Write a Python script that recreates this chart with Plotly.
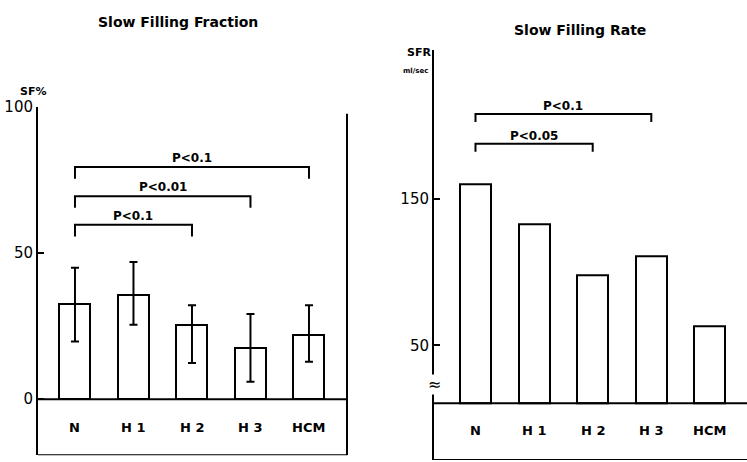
import plotly.graph_objects as go

# ---------------- data ----------------
categories = ["N", "H1", "H2", "H3", "HCM"]
cat_labels = ["N", "H 1", "H 2", "H 3", "HCM"]
sf_mean = [32.6, 35.6, 25.5, 17.4, 22.0]
sf_err_plus = [12.4, 11.4, 6.7, 11.8, 10.2]
sf_err_minus = [12.8, 10.1, 13.1, 11.4, 9.2]
sfr_mean = [160, 133, 98, 111, 63]
sfr_base = 10.4          # baseline of the broken axis
sf_sig = [("N", "H2", "P<0.1"), ("N", "H3", "P<0.01"), ("N", "HCM", "P<0.1")]
sfr_sig = [("N", "H2", "P<0.05"), ("N", "H3", "P<0.1")]

# ---------------- layout helpers ----------------
W, H = 747, 462
def fx(p): return p / W
def fy(p): return 1 - p / H

FONT = "DejaVu Sans"
BLACK = "black"
idx = list(range(len(categories)))

fig = go.Figure()

fig.add_trace(go.Bar(
    x=idx, y=sf_mean, base=0, width=0.53,
    marker=dict(color="white", line=dict(color=BLACK, width=2)),
    error_y=dict(type="data", symmetric=False, array=sf_err_plus,
                 arrayminus=sf_err_minus, color=BLACK, thickness=2, width=4),
    xaxis="x", yaxis="y", showlegend=False))

fig.add_trace(go.Bar(
    x=idx, y=[v - sfr_base for v in sfr_mean], base=sfr_base, width=0.53,
    marker=dict(color="white", line=dict(color=BLACK, width=2)),
    xaxis="x2", yaxis="y2", showlegend=False))

y1_range = [-19.13, 100]
y2_range = [-28.52, 252.0]

axis_common = dict(showgrid=False, zeroline=False, color=BLACK)
fig.update_layout(
    width=W, height=H, margin=dict(l=0, r=0, t=0, b=0),
    paper_bgcolor="white", plot_bgcolor="white", bargap=0,
    xaxis=dict(domain=[fx(38), fx(347)], range=[-0.632, 4.65], showticklabels=False,
               ticks="", showline=False, anchor="y", **axis_common),
    yaxis=dict(domain=[fy(455), fy(100)], range=y1_range, tickvals=[0, 50, 100],
               ticktext=["0", "50", "100"], ticks="inside", ticklen=6, tickwidth=2,
               showline=True, linewidth=2, linecolor=BLACK, anchor="x",
               tickfont=dict(family=FONT, size=15, color=BLACK), **axis_common),
    xaxis2=dict(domain=[fx(434), 1.0], range=[-0.708, 4.633], showticklabels=False,
                ticks="", showline=False, anchor="y2", **axis_common),
    yaxis2=dict(domain=[fy(460), fy(42)], range=y2_range, tickvals=[50, 150],
                ticktext=["50", "150"], ticks="inside", ticklen=6, tickwidth=2,
                showline=True, linewidth=2, linecolor=BLACK, anchor="x2",
                tickfont=dict(family=FONT, size=15, color=BLACK), **axis_common),
)

shapes = []
# left panel box
for yv in [0, y1_range[0]]:
    shapes.append(dict(type="line", xref="x domain", yref="y", x0=0, x1=1, y0=yv, y1=yv,
                       line=dict(color=BLACK, width=2)))
shapes.append(dict(type="line", xref="x domain", yref="y", x0=1, x1=1, y0=97.7, y1=y1_range[0],
                   line=dict(color=BLACK, width=2)))
# right panel box
for yv in [sfr_base, y2_range[0]]:
    shapes.append(dict(type="line", xref="x2 domain", yref="y2", x0=0, x1=1, y0=yv, y1=yv,
                       line=dict(color=BLACK, width=2)))

annotations = []
# significance brackets
def add_brackets(sig, xr, yr, levels, drop, text_off):
    for (a, b, txt), lev in zip(sig, levels):
        i0, i1 = categories.index(a), categories.index(b)
        shapes.append(dict(type="path", xref=xr, yref=yr,
                           path=f"M {i0},{lev - drop} L {i0},{lev} L {i1},{lev} L {i1},{lev - drop}",
                           line=dict(color=BLACK, width=2)))
        annotations.append(dict(xref=xr, yref=yr, x=(i0 + i1) / 2, y=lev + text_off, text=txt,
                                showarrow=False, xanchor="center", yanchor="middle",
                                font=dict(family=FONT, size=12, color=BLACK, weight="bold")))

add_brackets(sf_sig, "x", "y", [59.7, 69.5, 79.5], 4.0, 3.0)
add_brackets(sfr_sig, "x2", "y2", [188, 208.4], 5.5, 5.5)

# category labels inside the boxes
for i, lab in enumerate(cat_labels):
    annotations.append(dict(xref="x", yref="y", x=i, y=-9.7, text=lab, showarrow=False,
                            xanchor="center", yanchor="middle",
                            font=dict(family=FONT, size=13, color=BLACK, weight="bold")))
    annotations.append(dict(xref="x2", yref="y2", x=i, y=-8.4, text=lab, showarrow=False,
                            xanchor="center", yanchor="middle",
                            font=dict(family=FONT, size=13, color=BLACK, weight="bold")))

def ptxt(x, y, text, size, bold=True, **kw):
    f = dict(family=FONT, size=size, color=BLACK)
    if bold:
        f["weight"] = "bold"
    d = dict(xref="paper", yref="paper", x=fx(x), y=fy(y), text=text, showarrow=False,
             xanchor="center", yanchor="middle", font=f)
    d.update(kw)
    return d

# titles and axis captions
annotations += [
    ptxt(178, 13, "Slow Filling Fraction", 14),
    ptxt(580, 21, "Slow Filling Rate", 14),
    ptxt(33, 84, "SF%", 11),
    ptxt(419, 44, "SFR", 11),
    ptxt(415, 63, "ml/sec", 7),
    # axis break mark
    dict(xref="x2 domain", yref="y2", x=0, y=23.2, text="≈", showarrow=False,
         xanchor="center", yanchor="middle", bgcolor="white", borderpad=0,
         font=dict(family=FONT, size=16, color=BLACK)),
]

fig.update_layout(shapes=shapes, annotations=annotations)
fig.write_html("out.html")
